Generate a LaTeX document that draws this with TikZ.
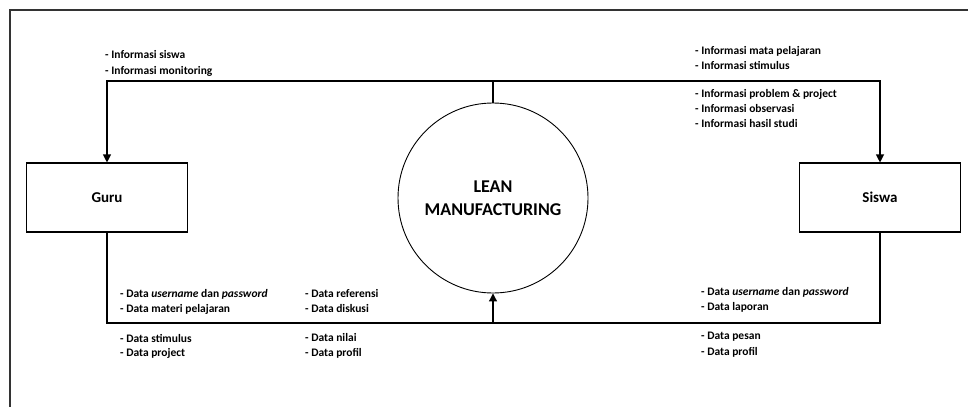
\documentclass[tikz,border=0pt]{standalone}
\usepackage{fontspec}
\setmainfont{Carlito}
\usetikzlibrary{arrows.meta}
\begin{document}
\begin{tikzpicture}[x=1pt,y=-1pt,
  lbl/.style={anchor=west,inner sep=0pt,font=\bfseries\fontsize{11.5}{14}\selectfont},
  ent/.style={draw,line width=1.1pt,minimum width=161pt,minimum height=69pt,font=\bfseries\fontsize{15}{18}\selectfont},
  proc/.style={draw,circle,line width=0.9pt,minimum size=190pt,inner sep=0pt,align=center,font=\bfseries\fontsize{18}{23}\selectfont},
  flow/.style={line width=1.1pt},
  arr/.style={flow,-{Triangle[length=8pt,width=8pt]}}]
\useasboundingbox (0,0) rectangle (968,407);
% frame (top and left edges)
\draw[line width=2pt,black!80] (968,9.5) -- (9.5,9.5) -- (9.5,407);
% nodes
\node[ent] (guru) at (107,197.5) {Guru};
\node[ent] (siswa) at (880,197.5) {Siswa};
\node[proc] (lean) at (493,198) {LEAN\\MANUFACTURING};
% coordinates
\coordinate (tm) at (493,81);
\coordinate (tl) at (107,81);
\coordinate (tr) at (880,81);
\coordinate (bl) at (107,323);
\coordinate (br) at (880,323);
\coordinate (bm) at (493,323);
% connectors
\draw[flow] (lean.north) -- (tm);
\draw[arr] (tm) -- (tl) -- (guru.north);
\draw[arr] (tm) -- (tr) -- (siswa.north);
\draw[flow] (guru.south) -- (bl) -- (br) -- (siswa.south);
\draw[arr] (bm) -- (lean.south);
% labels top
\node[lbl] (t1) at (105,55) {- Informasi siswa};
\node[lbl] (t2) at (105,71) {- Informasi monitoring};
\node[lbl] (t3) at (695,51) {- Informasi mata pelajaran};
\node[lbl] (t4) at (695,65) {- Informasi stimulus};
\node[lbl] (t5) at (695,94) {- Informasi problem \& project};
\node[lbl] (t6) at (695,109) {- Informasi observasi};
\node[lbl] (t7) at (695,124) {- Informasi hasil studi};
% labels bottom left
\node[lbl] (b1) at (120,294) {- Data \textit{username} dan \textit{password}};
\node[lbl] (b2) at (120,309) {- Data materi pelajaran};
\node[lbl] (b3) at (120,338) {- Data stimulus};
\node[lbl] (b4) at (120,353) {- Data project};
% labels bottom middle
\node[lbl] (m1) at (305,294) {- Data referensi};
\node[lbl] (m2) at (305,309) {- Data diskusi};
\node[lbl] (m3) at (305,338) {- Data nilai};
\node[lbl] (m4) at (305,353) {- Data profil};
% labels bottom right
\node[lbl] (r1) at (701,292) {- Data \textit{username} dan \textit{password}};
\node[lbl] (r2) at (701,307) {- Data laporan};
\node[lbl] (r3) at (701,337) {- Data pesan};
\node[lbl] (r4) at (701,352) {- Data profil};
\end{tikzpicture}
\end{document}
